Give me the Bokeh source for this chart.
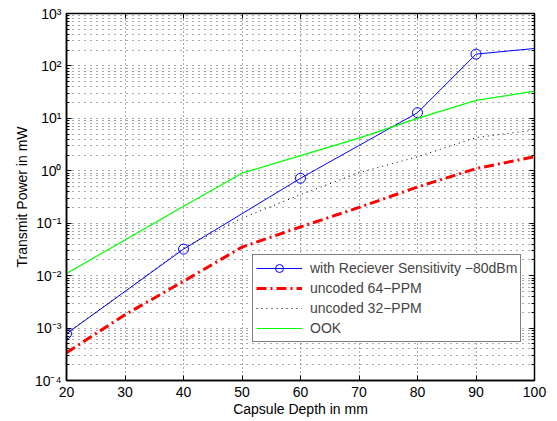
from bokeh.plotting import figure
from bokeh.models import FixedTicker, LinearAxis, LogAxis, CustomJSTickFormatter
from bokeh.embed import file_html
from bokeh.resources import INLINE

# ---- data ----
depth = [20, 30, 40, 50, 60, 70, 80, 90, 100]

sens_depth = [20, 40, 60, 80, 90, 100]
sens_power = [7.8e-4, 0.032, 0.72, 12.8, 168, 215]
sens_marker_count = 5  # circles drawn at the first five points

ppm64_power = [3.4e-4, 1.8e-3, 7.8e-3, 0.035, 0.085, 0.20, 0.49, 1.1, 1.86]
ppm32_power = [8.0e-4, 5.0e-3, 0.034, 0.125, 0.35, 0.92, 1.85, 4.3, 6.0]
ook_power = [0.011, 0.048, 0.21, 0.9, 1.95, 4.2, 10.0, 22.0, 33.0]

x_ticks = [20, 30, 40, 50, 60, 70, 80, 90, 100]
y_exponents = [-4, -3, -2, -1, 0, 1, 2, 3]

labels = ["with Reciever Sensitivity \u221280dBm", "uncoded 64\u2212PPM",
          "uncoded 32\u2212PPM", "OOK"]

FONT = "Liberation Sans"

y_major = [10.0 ** e for e in y_exponents]
y_minor = [k * 10.0 ** e for e in y_exponents[:-1] for k in range(2, 10)]

p = figure(width=557, height=421, y_axis_type="log",
           x_range=(20, 100), y_range=(1e-4, 1e3),
           output_backend="svg", toolbar_location=None,
           min_border_left=66, min_border_right=23,
           min_border_top=13, min_border_bottom=41)

p.background_fill_color = "white"
p.border_fill_color = "white"
p.outline_line_color = "black"
p.outline_line_width = 1.5

xt = FixedTicker(ticks=x_ticks)
yt = FixedTicker(ticks=y_major, minor_ticks=y_minor)

sup_fmt = CustomJSTickFormatter(code="""
const e = Math.round(Math.log10(tick));
const sup = {'-':'\u207b','0':'\u2070','1':'\u00b9','2':'\u00b2','3':'\u00b3',
             '4':'\u2074','5':'\u2075','6':'\u2076','7':'\u2077','8':'\u2078','9':'\u2079'};
return '10' + String(e).split('').map(c => sup[c]).join('');
""")
blank_fmt = CustomJSTickFormatter(code="return '';")

# bottom axis
xa = p.xaxis[0]
xa.ticker = xt
xa.axis_label = "Capsule Depth in mm"
# left axis
ya = p.yaxis[0]
ya.ticker = yt
ya.formatter = sup_fmt
ya.axis_label = "Transmit Power in mW"

for ax in (xa, ya):
    ax.major_tick_in = 5
    ax.major_tick_out = 0
    ax.minor_tick_in = 3
    ax.minor_tick_out = 0
    ax.axis_line_color = "black"
    ax.axis_line_width = 1.5
    ax.major_tick_line_color = "black"
    ax.minor_tick_line_color = "black"
    ax.major_label_text_font = FONT
    ax.major_label_text_font_size = "14px"
    ax.major_label_text_color = "black"
    ax.axis_label_text_font = FONT
    ax.axis_label_text_font_size = "14px"
    ax.axis_label_text_font_style = "normal"
    ax.axis_label_text_color = "black"

xa.major_label_standoff = 6
xa.axis_label_standoff = 1
ya.major_label_standoff = 5
ya.axis_label_standoff = 2

# top & right axes (tick marks only)
top = LinearAxis(ticker=xt, formatter=blank_fmt, major_tick_in=5, major_tick_out=0,
                 major_label_standoff=0, axis_line_color="black")
right = LogAxis(ticker=yt, formatter=blank_fmt, major_tick_in=5, major_tick_out=0,
                minor_tick_in=3, minor_tick_out=0, major_label_standoff=0,
                axis_line_color="black")
p.add_layout(top, "above")
p.add_layout(right, "right")

# grids
p.xgrid.ticker = xt
p.ygrid.ticker = yt
p.xgrid.grid_line_color = "#555555"
p.xgrid.grid_line_dash = "1 3"
p.ygrid.grid_line_color = "#555555"
p.ygrid.grid_line_dash = "1 5"
p.ygrid.minor_grid_line_color = "#555555"
p.ygrid.minor_grid_line_dash = "1 5"

# series
p.line(sens_depth, sens_power, line_color="#0000ff", line_width=1,
       legend_label=labels[0])
p.scatter(sens_depth[:sens_marker_count], sens_power[:sens_marker_count],
          marker="circle", size=10, line_color="#0000ff", fill_color=None,
          line_width=1, legend_label=labels[0])
p.line(depth, ppm64_power, line_color="#ff0000", line_width=3,
       line_dash="10 4 2 4", legend_label=labels[1])
p.line(depth, ppm32_power, line_color="black", line_width=1,
       line_dash="1 4", legend_label=labels[2])
p.line(depth, ook_power, line_color="#00ff00", line_width=1.2,
       legend_label=labels[3])

leg = p.legend[0]
leg.location = (186, 38)
leg.margin = 0
leg.padding = 3
leg.spacing = 0
leg.label_height = 20
leg.glyph_height = 20
leg.glyph_width = 46
leg.label_standoff = 8
leg.label_text_font = FONT
leg.label_text_font_size = "14px"
leg.border_line_color = "black"
leg.border_line_width = 1
leg.background_fill_color = "white"
leg.background_fill_alpha = 1

open("out.html", "w").write(file_html(p, INLINE))
